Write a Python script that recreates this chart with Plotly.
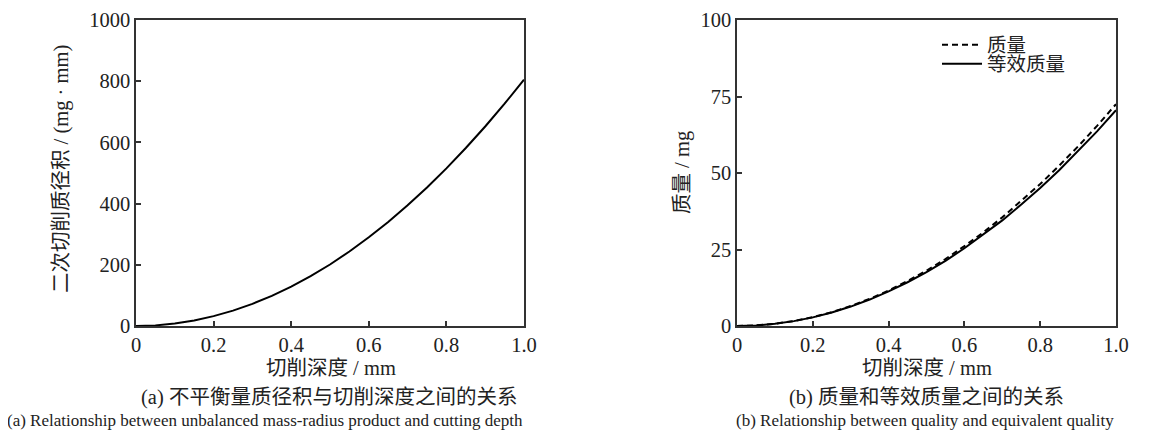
import plotly.graph_objects as go

depth = [0.0, 0.05, 0.1, 0.15, 0.2, 0.25, 0.3, 0.35, 0.4, 0.45, 0.5,
         0.55, 0.6, 0.65, 0.7, 0.75, 0.8, 0.85, 0.9, 0.95, 1.0]
mass_radius = [0, 2.0, 8.1, 18.1, 32.2, 50.3, 72.5, 98.6, 128.8, 163.0, 201.0,
               243.5, 289.8, 340.0, 394.5, 452.8, 515.0, 581.6, 652.0, 726.5, 805.0]
mass = [0, 0.18, 0.73, 1.63, 2.9, 4.53, 6.53, 8.88, 11.6, 14.7, 18.1,
        21.9, 26.1, 30.6, 35.5, 40.8, 46.4, 52.4, 58.7, 65.4, 72.5]
equiv_mass = [0, 0.18, 0.71, 1.59, 2.82, 4.41, 6.35, 8.64, 11.3, 14.3, 17.6,
              21.3, 25.4, 29.8, 34.5, 39.7, 45.1, 50.9, 57.1, 63.6, 70.5]

x_ticks = [0, 0.2, 0.4, 0.6, 0.8, 1.0]
x_ticklabels = ["0", "0.2", "0.4", "0.6", "0.8", "1.0"]
y1_ticks = [0, 200, 400, 600, 800, 1000]
y2_ticks = [0, 25, 50, 75, 100]

W, H = 1168, 432
OFF = 8  # page body margin offset
FONT = "Liberation Serif, Times New Roman, Noto Sans CJK SC, serif"
LC = "#333333"

def px(x):
    return (x - OFF) / W

def py(y):
    return 1 - (y - OFF) / H

fig = go.Figure()
fig.add_trace(go.Scatter(x=depth, y=mass_radius, mode="lines",
                         line=dict(color="black", width=2), showlegend=False,
                         xaxis="x", yaxis="y"))
fig.add_trace(go.Scatter(x=depth, y=mass, mode="lines", name="质量",
                         line=dict(color="black", width=2, dash="6px,4px"),
                         xaxis="x2", yaxis="y2", legend="legend"))
fig.add_trace(go.Scatter(x=depth, y=equiv_mass, mode="lines", name="等效质量",
                         line=dict(color="black", width=2),
                         xaxis="x2", yaxis="y2", legend="legend2"))

axis_common = dict(showline=True, linecolor=LC, linewidth=1.5, mirror=True,
                   ticks="inside", ticklen=5, tickwidth=1.5, tickcolor=LC,
                   showgrid=False, zeroline=False, automargin=False,
                   tickfont=dict(family=FONT, size=20.5, color="#222"))

leg_common = dict(xanchor="left", yanchor="middle", bgcolor="rgba(0,0,0,0)",
                  font=dict(family=FONT, size=19.5, color="#222"),
                  borderwidth=0, itemwidth=40)

fig.update_layout(
    width=W, height=H,
    margin=dict(l=0, r=0, t=0, b=0, pad=0, autoexpand=False),
    paper_bgcolor="white", plot_bgcolor="white",
    font=dict(family=FONT, color="#222"),
    xaxis=dict(domain=[px(136), px(524)], range=[0, 1.0], tickvals=x_ticks,
               ticktext=x_ticklabels, anchor="y", **axis_common),
    yaxis=dict(domain=[py(326), py(20)], range=[0, 1000], tickvals=y1_ticks,
               anchor="x", **axis_common),
    xaxis2=dict(domain=[px(737), px(1116)], range=[0, 1.0], tickvals=x_ticks,
                ticktext=x_ticklabels, anchor="y2", **axis_common),
    yaxis2=dict(domain=[py(326), py(20)], range=[0, 100], tickvals=y2_ticks,
                anchor="x2", **axis_common),
    legend=dict(x=px(937), y=py(45), **leg_common),
    legend2=dict(x=px(937), y=py(64), **leg_common),
)

ann = []
def add(text, x, y, size=20.5, angle=0, xanchor="center"):
    ann.append(dict(text=text, x=px(x), y=py(y), xref="paper", yref="paper",
                    showarrow=False, textangle=angle, xanchor=xanchor,
                    yanchor="middle", font=dict(family=FONT, size=size, color="#222")))

add("二次切削质径积 / (mg · mm)", 62, 169, angle=-90)
add("质量 / mg", 682, 173, angle=-90)
add("切削深度 / mm", 331, 368)
add("切削深度 / mm", 927, 368)
add("(a) 不平衡量质径积与切削深度之间的关系", 329, 397)
add("(b) 质量和等效质量之间的关系", 926, 397)
add("(a) Relationship between unbalanced mass-radius product and cutting depth", 265, 420, size=17)
add("(b) Relationship between quality and equivalent quality", 925, 420, size=17)
fig.update_layout(annotations=ann)

fig.write_html("out.html")
